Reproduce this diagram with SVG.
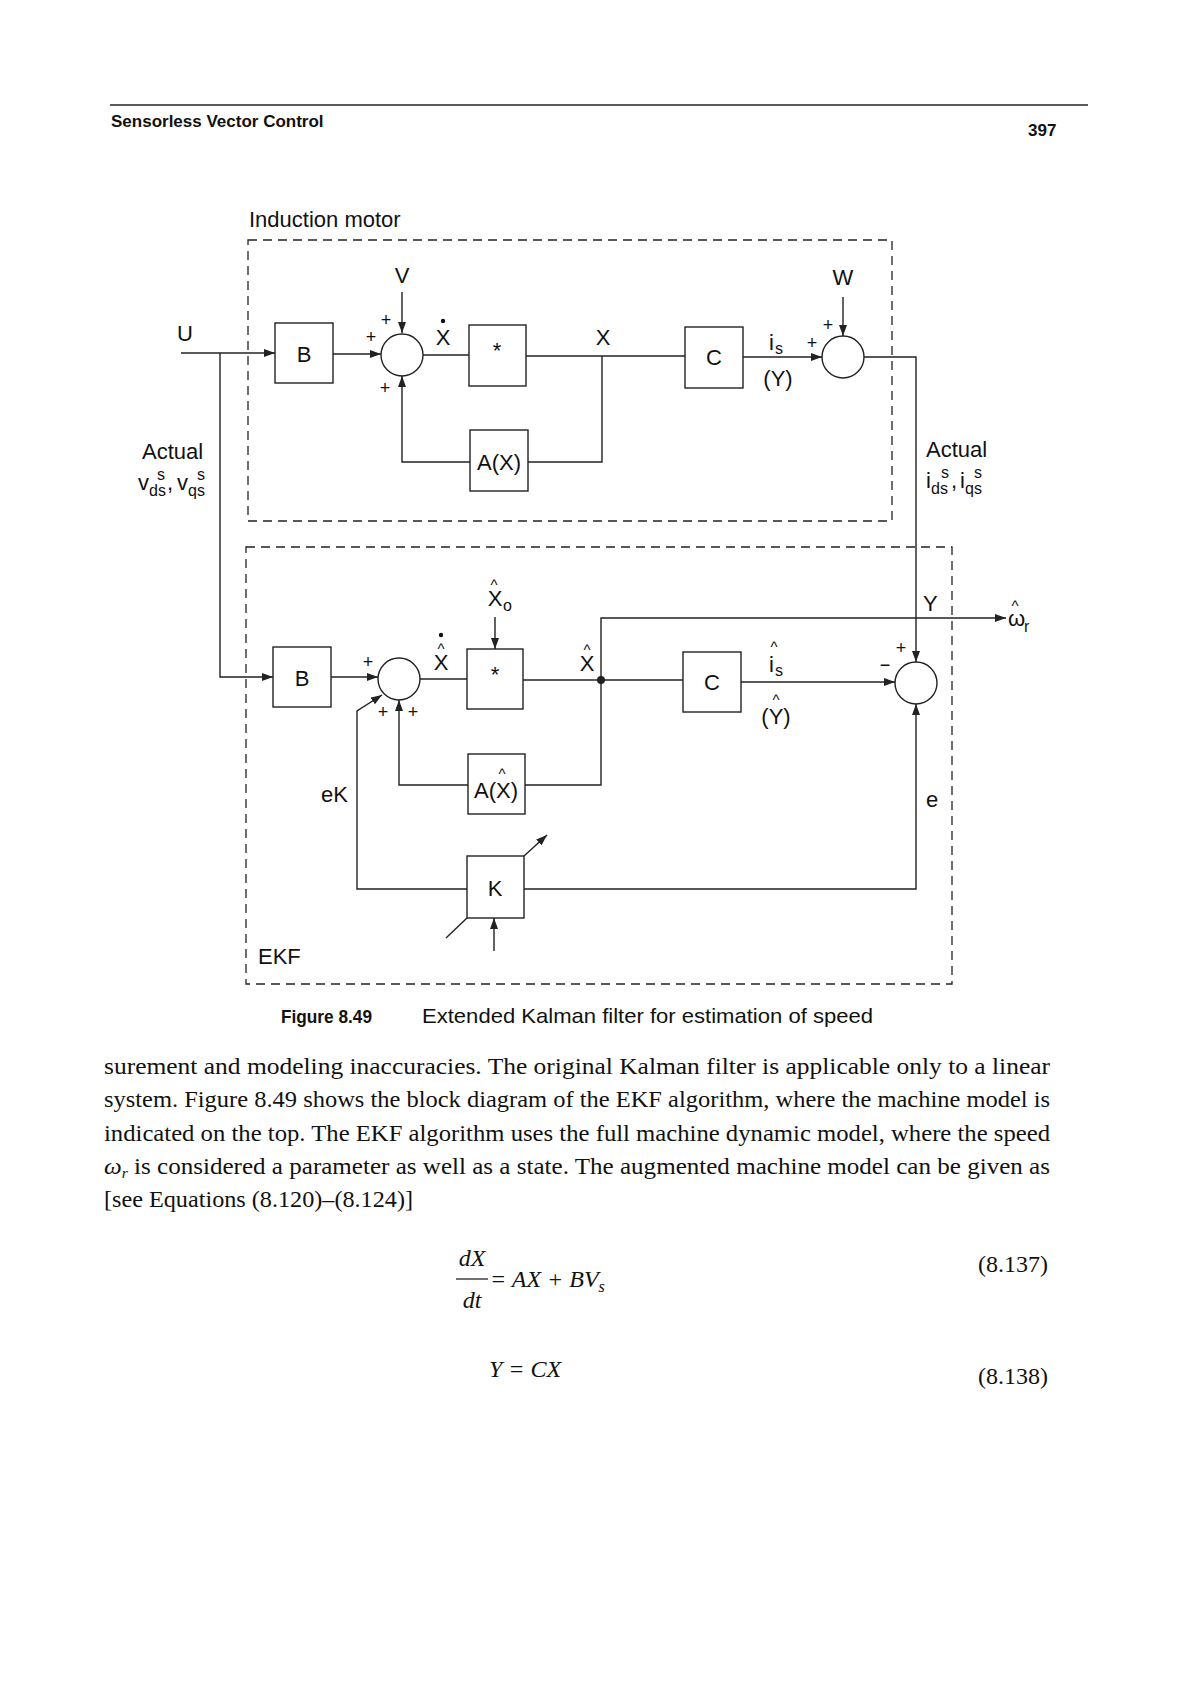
<svg xmlns="http://www.w3.org/2000/svg" width="1190" height="1684" viewBox="0 0 1190 1684">
<defs>
<marker id="arr" markerUnits="userSpaceOnUse" markerWidth="11" markerHeight="8" refX="11" refY="4" orient="auto">
<path d="M0,0 L11,4 L0,8 z" fill="#222"/>
</marker>
<style>
.ln{fill:none;stroke:#222;stroke-width:1.4}
.box{fill:#fff;stroke:#222;stroke-width:1.4}
.dash{fill:none;stroke:#222;stroke-width:1.3;stroke-dasharray:9 6}
.t{font-family:"Liberation Sans",Arial,sans-serif;font-size:22px;fill:#111}
.tc{font-family:"Liberation Sans",Arial,sans-serif;font-size:22px;fill:#111;text-anchor:middle}
.sm{font-family:"Liberation Sans",Arial,sans-serif;font-size:16px;fill:#111}
.pm{font-family:"Liberation Sans",Arial,sans-serif;font-size:18px;fill:#111;text-anchor:middle}
.hat{font-family:"Liberation Sans",Arial,sans-serif;font-size:15px;fill:#111;text-anchor:middle}
.body{font-family:"Liberation Serif","Times New Roman",serif;font-size:24px;fill:#111}
.eq{font-family:"Liberation Serif","Times New Roman",serif;font-size:24px;fill:#111;font-style:italic}
</style>
</defs>
<rect width="1190" height="1684" fill="#fff"/>

<!-- page header -->
<g id="header">
<line x1="110" y1="105" x2="1088" y2="105" stroke="#222" stroke-width="1.5"/>
<text x="111" y="127" font-family="Liberation Sans, Arial, sans-serif" font-size="17" font-weight="bold" fill="#111">Sensorless Vector Control</text>
<text x="1028" y="136" font-family="Liberation Sans, Arial, sans-serif" font-size="17" font-weight="bold" fill="#111">397</text>
</g>

<!-- frames -->
<g id="frame-motor">
<rect class="dash" x="248" y="240" width="644" height="281"/>
<text class="t" x="249" y="227">Induction motor</text>
</g>
<g id="frame-ekf">
<rect class="dash" x="246" y="547" width="706" height="437"/>
<text class="t" x="258" y="964">EKF</text>
</g>

<!-- connectors -->
<g id="connectors">
<path class="ln" d="M181,353 H275" marker-end="url(#arr)"/>
<path class="ln" d="M220,353 V677 H273" marker-end="url(#arr)"/>
<path class="ln" d="M333,354 H381" marker-end="url(#arr)"/>
<path class="ln" d="M402,292 V333" marker-end="url(#arr)"/>
<path class="ln" d="M423,355 H469"/>
<path class="ln" d="M526,356 H685"/>
<path class="ln" d="M602,356 V462 H528"/>
<path class="ln" d="M470,462 H402 V376" marker-end="url(#arr)"/>
<path class="ln" d="M743,357 H822" marker-end="url(#arr)"/>
<path class="ln" d="M843,297 V336" marker-end="url(#arr)"/>
<path class="ln" d="M864,357 H916 V662" marker-end="url(#arr)"/>
<path class="ln" d="M331,677 H378" marker-end="url(#arr)"/>
<path class="ln" d="M420,679 H467"/>
<path class="ln" d="M495,617 V649" marker-end="url(#arr)"/>
<path class="ln" d="M523,680 H683"/>
<path class="ln" d="M601,680 V618 H1006" marker-end="url(#arr)"/>
<path class="ln" d="M601,680 V785 H525"/>
<path class="ln" d="M468,785 H399 V700" marker-end="url(#arr)"/>
<path class="ln" d="M741,682 H895" marker-end="url(#arr)"/>
<path class="ln" d="M524,889 H916 V704" marker-end="url(#arr)"/>
<path class="ln" d="M467,889 H357 V711 L382,695" marker-end="url(#arr)"/>
<path class="ln" d="M446,938 L467,918"/>
<path class="ln" d="M524,856 L547,835" marker-end="url(#arr)"/>
<path class="ln" d="M494,951 V918" marker-end="url(#arr)"/>
<circle cx="601" cy="680" r="4" fill="#222"/>
</g>

<!-- upper (induction motor) nodes -->
<g id="node-B1"><rect class="box" x="275" y="323" width="58" height="60"/><text class="tc" x="304" y="362">B</text></g>
<g id="node-sum1"><circle class="box" cx="402" cy="355" r="21"/></g>
<g id="node-int1"><rect class="box" x="469" y="325" width="57" height="61"/><text class="tc" x="497" y="358">*</text></g>
<g id="node-AX1"><rect class="box" x="470" y="430" width="58" height="61"/><text class="tc" x="499" y="470">A(X)</text></g>
<g id="node-C1"><rect class="box" x="685" y="327" width="58" height="61"/><text class="tc" x="714" y="365">C</text></g>
<g id="node-sum2"><circle class="box" cx="843" cy="357" r="21"/></g>

<!-- lower (EKF) nodes -->
<g id="node-B2"><rect class="box" x="273" y="647" width="58" height="60"/><text class="tc" x="302" y="686">B</text></g>
<g id="node-sum3"><circle class="box" cx="399" cy="679" r="21"/></g>
<g id="node-int2"><rect class="box" x="467" y="649" width="56" height="60"/><text class="tc" x="495" y="682">*</text></g>
<g id="node-AX2"><rect class="box" x="468" y="754" width="57" height="60"/><text class="tc" x="496" y="798">A(X)</text><text class="hat" x="502" y="779">^</text></g>
<g id="node-C2"><rect class="box" x="683" y="652" width="58" height="60"/><text class="tc" x="712" y="690">C</text></g>
<g id="node-sum4"><circle class="box" cx="916" cy="683" r="21"/></g>
<g id="node-K"><rect class="box" x="467" y="856" width="57" height="62"/><text class="tc" x="495" y="896">K</text></g>

<!-- upper labels -->
<g id="labels-upper">
<text class="t" x="177" y="341">U</text>
<text class="tc" x="402" y="283">V</text>
<text class="pm" x="386" y="326">+</text>
<text class="pm" x="371" y="343">+</text>
<text class="pm" x="385" y="394">+</text>
<circle cx="443" cy="321" r="2.2" fill="#111"/>
<text class="tc" x="443" y="345">X</text>
<text class="tc" x="603" y="345">X</text>
<text class="t" x="769" y="350">i</text><text class="sm" x="775" y="354">s</text>
<text class="tc" x="778" y="386">(Y)</text>
<text class="pm" x="812" y="349">+</text>
<text class="pm" x="828" y="331">+</text>
<text class="tc" x="843" y="285">W</text>
<text class="t" x="142" y="459">Actual</text>
<text class="t" x="138" y="490">v</text><text class="sm" x="149" y="496">ds</text><text class="sm" x="157" y="480">s</text><text class="t" x="167" y="490">,</text>
<text class="t" x="177" y="490">v</text><text class="sm" x="188" y="496">qs</text><text class="sm" x="197" y="480">s</text>
<text class="t" x="926" y="457">Actual</text>
<text class="t" x="926" y="488">i</text><text class="sm" x="931" y="494">ds</text><text class="sm" x="941" y="478">s</text><text class="t" x="951" y="488">,</text>
<text class="t" x="960" y="488">i</text><text class="sm" x="965" y="494">qs</text><text class="sm" x="974" y="478">s</text>
</g>

<!-- lower labels -->
<g id="labels-lower">
<text class="hat" x="494" y="590">^</text>
<text class="tc" x="495" y="606">X</text><text class="sm" x="503" y="611">o</text>
<text class="pm" x="368" y="668">+</text>
<text class="pm" x="383" y="718">+</text>
<text class="pm" x="413" y="718">+</text>
<circle cx="441" cy="635" r="2.2" fill="#111"/>
<text class="hat" x="441" y="654">^</text>
<text class="tc" x="441" y="670">X</text>
<text class="hat" x="587" y="655">^</text>
<text class="tc" x="587" y="671">X</text>
<text class="hat" x="774" y="652">^</text>
<text class="t" x="769" y="672">i</text><text class="sm" x="775" y="676">s</text>
<text class="hat" x="776" y="705">^</text>
<text class="tc" x="776" y="724">(Y)</text>
<text class="pm" x="901" y="654">+</text>
<text class="pm" x="885" y="671">−</text>
<text class="t" x="923" y="611">Y</text>
<text class="t" x="926" y="807">e</text>
<text class="t" x="321" y="802">eK</text>
<text class="hat" x="1015" y="611">^</text>
<text class="t" x="1008" y="626">ω</text><text class="sm" x="1024" y="632">r</text>
</g>

<!-- caption -->
<g id="caption">
<text x="281" y="1023" font-family="Liberation Sans, Arial, sans-serif" font-size="19" font-weight="bold" fill="#111" textLength="91" lengthAdjust="spacingAndGlyphs">Figure 8.49</text>
<text x="422" y="1023" font-family="Liberation Sans, Arial, sans-serif" font-size="21" fill="#111" textLength="451" lengthAdjust="spacingAndGlyphs">Extended Kalman filter for estimation of speed</text>
</g>

<!-- body text -->
<g id="body">
<text class="body" x="104" y="1074" textLength="946" lengthAdjust="spacingAndGlyphs">surement and modeling inaccuracies. The original Kalman filter is applicable only to a linear</text>
<text class="body" x="104" y="1107" textLength="946" lengthAdjust="spacingAndGlyphs">system. Figure 8.49 shows the block diagram of the EKF algorithm, where the machine model is</text>
<text class="body" x="104" y="1141" textLength="946" lengthAdjust="spacingAndGlyphs">indicated on the top. The EKF algorithm uses the full machine dynamic model, where the speed</text>
<text class="body" x="104" y="1174" textLength="946" lengthAdjust="spacingAndGlyphs"><tspan font-style="italic">ω</tspan><tspan font-style="italic" font-size="15" dy="4">r</tspan><tspan dy="-4"> is considered a parameter as well as a state. The augmented machine model can be given as</tspan></text>
<text class="body" x="104" y="1207" textLength="309" lengthAdjust="spacingAndGlyphs">[see Equations (8.120)–(8.124)]</text>
</g>

<!-- equations -->
<g id="equations">
<text class="eq" x="472" y="1266" text-anchor="middle">dX</text>
<line x1="456" y1="1279" x2="488" y2="1279" stroke="#111" stroke-width="1.2"/>
<text class="eq" x="472" y="1308" text-anchor="middle">dt</text>
<text class="eq" x="490" y="1287">= AX + BV<tspan font-size="16" dy="5">s</tspan></text>
<text class="body" x="978" y="1272">(8.137)</text>
<text class="eq" x="489" y="1377">Y = CX</text>
<text class="body" x="978" y="1384">(8.138)</text>
</g>
</svg>
